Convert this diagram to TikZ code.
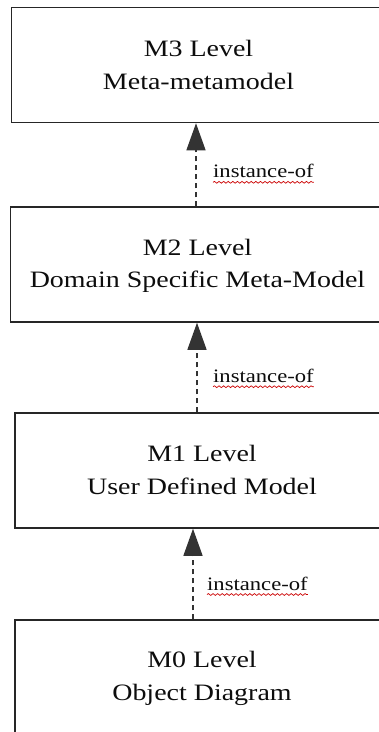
\documentclass[tikz,border=0pt]{standalone}
\usepackage{fontspec}
\setmainfont[FakeStretch=1.19]{Liberation Serif}
\usetikzlibrary{arrows.meta,decorations.pathmorphing}
\newcommand\lvstrut{\rule[-3.3pt]{0pt}{22pt}}
\tikzset{
  levelbox/.style={draw=black!85, line width=1.5pt, rectangle, inner sep=0pt,
    minimum width=374pt, minimum height=115pt, align=center, text=black!95,
    font=\fontsize{23.5}{32.7}\selectfont},
  inst/.style={draw=black!80, line width=1.3pt, dash pattern=on 5pt off 4pt,
    -{Triangle[width=19pt,length=27pt]}},
  lbl/.style={anchor=base west, inner sep=0pt, text=black!95,
    font=\fontsize{19}{22}\selectfont},
  squiggle/.style={draw=red!80!black, line width=0.7pt,
    decorate, decoration={snake, amplitude=0.9pt, segment length=4.6pt}}
}
\begin{document}
\begin{tikzpicture}[x=1pt,y=-1pt]
\useasboundingbox (0,0) rectangle (379,732);
\fill[white] (0,0) rectangle (379,732);
\clip (0,0) rectangle (379,732);
\node[levelbox] (m3) at (198.5,65)  {M3 Level\lvstrut\\Meta-metamodel\lvstrut};
\node[levelbox] (m2) at (197.5,264.5) {M2 Level\lvstrut\\Domain Specific Meta-Model\lvstrut};
\node[levelbox] (m1) at (202,470.5) {M1 Level\lvstrut\\User Defined Model\lvstrut};
\node[levelbox] (m0) at (202,677.5) {M0 Level\lvstrut\\Object Diagram\lvstrut};
\coordinate (ax1) at (196,0);
\coordinate (ax2) at (197,0);
\coordinate (ax3) at (193,0);
\draw[inst] (m2.north -| ax1) -- (m3.south -| ax1);
\draw[inst] (m1.north -| ax2) -- (m2.south -| ax2);
\draw[inst] (m0.north -| ax3) -- (m1.south -| ax3);
\node[lbl] (l1) at (213,177.8) {instance-of};
\node[lbl] (l2) at (213,382.2) {instance-of};
\node[lbl] (l3) at (207,590) {instance-of};
\draw[squiggle] ([yshift=-4.5pt]l1.base west) -- ([yshift=-4.5pt]l1.base east);
\draw[squiggle] ([yshift=-4.5pt]l2.base west) -- ([yshift=-4.5pt]l2.base east);
\draw[squiggle] ([yshift=-4.5pt]l3.base west) -- ([yshift=-4.5pt]l3.base east);
\end{tikzpicture}
\end{document}
